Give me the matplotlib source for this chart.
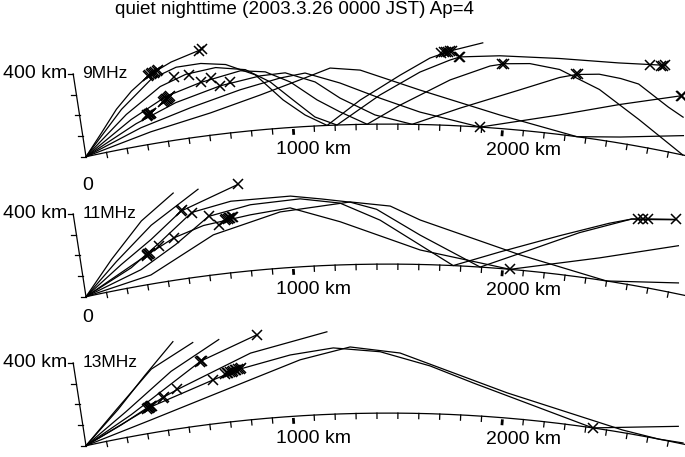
import numpy as np
import matplotlib
matplotlib.use("Agg")
import matplotlib.pyplot as plt
from matplotlib import font_manager

# ---------------- data (ground distance km, height km) ----------------
panel_labels = ["9MHz", "11MHz", "13MHz"]
title = "quiet nighttime (2003.3.26 0000 JST) Ap=4"
dist_tick_labels = [1000, 2000]
height_tick_label = 400

# 9 MHz rays: (distance list, height list)
rays_9 = [
    ([0, 96, 185, 268, 361, 468, 614], [0, 97, 193, 265, 327, 372, 413]),
    ([0, 208, 367, 487, 600, 712, 842, 961, 1060, 1162, 1322, 1509, 1644, 1734, 1880],
     [0, 188, 306, 344, 346, 327, 264, 134, 55, 0, 116, 234, 318, 355, 402]),
    ([0, 226, 402, 526, 665, 799, 908, 1008, 1106, 1209, 1415, 1600, 1736, 1781, 1961, 2231, 2500, 2707],
     [0, 160, 264, 304, 318, 293, 224, 130, 43, 0, 139, 250, 312, 329, 346, 360, 377, 403]),
    ([0, 244, 421, 588, 776, 889, 1000, 1120, 1226, 1353, 1510, 1740, 1920, 1987, 2100, 2238, 2431, 2635, 2870],
     [0, 132, 213, 256, 290, 274, 217, 124, 62, 0, 91, 217, 294, 310, 321, 308, 238, 126, 0]),
    ([0, 263, 462, 677, 865, 980, 1115, 1228, 1391, 1568, 1793, 2066, 2242, 2317, 2420, 2520, 2605, 2759, 2835],
     [0, 108, 177, 229, 257, 262, 210, 128, 44, 0, 85, 192, 270, 294, 310, 305, 293, 210, 177]),
    ([0, 282, 527, 767, 955, 1071, 1230, 1415, 1604, 1893, 2264, 2532, 2806],
     [0, 85, 143, 200, 239, 255, 200, 124, 59, 0, 93, 181, 275]),
    ([0, 325, 616, 857, 1046, 1187, 1325, 1602, 1983, 2357, 2562, 2854],
     [0, 58, 106, 166, 224, 273, 259, 164, 64, 0, 29, 91]),
]
marks_9_d = [355, 361, 368, 375, 383, 390, 398, 405, 600, 614, 471, 540, 589, 637, 677, 725,
             318, 322, 326, 330, 334, 338, 342,
             405, 410, 415, 420, 425, 430, 435, 440,
             1695, 1705, 1715, 1725, 1735, 1745, 1775, 1780, 1975, 1985, 2317, 2322,
             2640, 2690, 2700, 2707, 2806, 2810, 1893]
marks_9_h = [324, 327, 330, 332, 335, 337, 340, 342, 408, 413, 298, 300, 260, 273, 226, 243,
             136, 138, 140, 142, 144, 146, 148,
             190, 193, 196, 199, 202, 205, 208, 211,
             343, 347, 350, 352, 354, 356, 327, 329, 307, 309, 294, 296,
             392, 398, 400, 403, 275, 276, 0]

# 11 MHz rays
rays_11 = [
    ([0, 154, 321, 483], [0, 150, 305, 413]),
    ([0, 174, 362, 596], [0, 135, 277, 415]),
    ([0, 194, 351, 506, 776], [0, 117, 210, 322, 416]),
    ([0, 237, 394, 554, 737, 1009, 1150, 1280, 1400, 1603, 1893, 2122, 2342, 2570, 2645, 2768],
     [0, 93, 193, 309, 340, 340, 318, 298, 262, 140, 0, 101, 210, 311, 325, 347]),
    ([0, 281, 460, 628, 824, 1052, 1233, 1416, 1764, 1982, 2253, 2471, 2570, 2645, 2768],
     [0, 76, 168, 280, 314, 324, 295, 210, 0, 79, 184, 274, 311, 322, 345]),
    ([0, 323, 640, 957, 1280, 1463, 1602, 2077, 2500, 2838],
     [0, 43, 190, 268, 299, 277, 212, 73, 0, 52]),
    ([0, 324, 457, 600, 819, 1004, 1231, 1605, 2036, 2451, 2803],
     [0, 142, 201, 240, 266, 284, 206, 69, 0, 104, 226]),
]
marks_11_d = [507, 512, 557, 630, 670, 700, 708, 715, 722, 727, 734, 740, 457, 383,
              318, 322, 326, 330, 334, 776, 2600, 2620, 2645, 2768, 2036]
marks_11_h = [323, 325, 307, 280, 235, 254, 256, 258, 260, 262, 264, 266, 201, 172,
              138, 140, 142, 144, 146, 416, 315, 318, 325, 347, 0]

# 13 MHz rays
rays_13 = [
    ([0, 183, 331, 482], [0, 139, 275, 415]),
    ([0, 175, 366, 570], [0, 140, 301, 398]),
    ([0, 218, 454, 688], [0, 122, 276, 397]),
    ([0, 239, 595, 863], [0, 103, 305, 402]),
    ([0, 185, 397, 471, 825, 1177], [0, 64, 158, 186, 317, 394]),
    ([0, 337, 642, 758, 1005, 1203, 1417, 1647, 1850, 2433, 2832],
     [0, 124, 209, 244, 293, 316, 293, 228, 156, 0, 78]),
    ([0, 326, 812, 1049, 1280, 1508, 2012, 2576, 2753, 2870],
     [0, 62, 190, 267, 318, 287, 120, 12, 0, 5]),
]
marks_13_d = [590, 595, 600, 863, 397, 403, 471, 318, 322, 326, 330, 334, 338, 342,
              642, 700, 708, 715, 722, 730, 738, 745, 752, 760, 768, 775, 2433]
marks_13_h = [303, 305, 307, 402, 158, 161, 186, 117, 119, 121, 123, 125, 127, 129,
              209, 230, 232, 234, 236, 238, 240, 242, 244, 246, 248, 250, 0]

panels = [(rays_9, marks_9_d, marks_9_h), (rays_11, marks_11_d, marks_11_h),
          (rays_13, marks_13_d, marks_13_h)]

# ---------------- layout / geometry ----------------
W, H = 685, 457
fig = plt.figure(figsize=(W / 100, H / 100), dpi=100)
ax = fig.add_axes([0, 0, 1, 1])
ax.set_xlim(0, W)
ax.set_ylim(H, 0)
ax.axis("off")

names = {f.name for f in font_manager.fontManager.ttflist}
FONT = "Liberation Sans" if "Liberation Sans" in names else "DejaVu Sans"

R_KM = 6772.0
S = 0.2095            # px per km
XC = 388.4
RPX = R_KM * S
ORIGIN_X = 86.0
ORIGIN_Y = [156.7, 296.7, 445.7]
PHI0 = np.arcsin((ORIGIN_X - XC) / RPX)
AX_TILT = np.deg2rad(8.8)
LW = 0.9


def to_px(d, h, p):
    d = np.asarray(d, float)
    h = np.asarray(h, float)
    phi = PHI0 + d / R_KM
    r = RPX + h * S
    yc = ORIGIN_Y[p] + RPX * np.cos(PHI0)
    return XC + r * np.sin(phi), yc - r * np.cos(phi)


for p, (rays, md, mh) in enumerate(panels):
    # ground
    dg = np.linspace(0, 2900, 300)
    gx, gy = to_px(dg, np.zeros_like(dg), p)
    ax.plot(gx, gy, color="black", lw=LW)
    for t in range(100, 2900, 100):
        if t % 1000 == 0:
            tx, ty = to_px([t, t], [-8, -36], p)
            ax.plot(tx, ty, color="black", lw=2.0, solid_capstyle="butt")
        else:
            tx, ty = to_px([t, t], [0, -25], p)
            ax.plot(tx, ty, color="black", lw=LW)
    for t in dist_tick_labels:
        tx, ty = to_px(t, 0, p)
        ax.text(tx - 17, ty + 22, f"{t} km", fontsize=14, family=FONT,
                ha="left", va="center")
    # height axis
    ox, oy = ORIGIN_X, ORIGIN_Y[p]
    L = height_tick_label * S
    ux, uy = -np.sin(AX_TILT), -np.cos(AX_TILT)
    ax.plot([ox, ox + ux * L], [oy, oy + uy * L], color="black", lw=LW)
    for k in range(0, 5):
        hx, hy = ox + ux * L * k / 4, oy + uy * L * k / 4
        ax.plot([hx - 5, hx], [hy, hy], color="black", lw=LW)
    topx, topy = ox + ux * L, oy + uy * L
    ax.text(topx - 6, topy, f"{height_tick_label} km", fontsize=14, family=FONT,
            ha="right", va="center")
    ax.text(topx + 9, topy, panel_labels[p], fontsize=12.5, family=FONT,
            ha="left", va="center")
    # rays
    for d, h in rays:
        x, y = to_px(d, h, p)
        ax.plot(x, y, color="black", lw=LW)
    mx, my = to_px(md, mh, p)
    ax.plot(mx, my, linestyle="none", marker="x", color="black", ms=6.5, mew=1.1)

# "0" labels below origins
ax.text(88, 185, "0", fontsize=14, family=FONT, ha="center", va="center")
ax.text(88, 318, "0", fontsize=14, family=FONT, ha="center", va="center")

fig.text(294 / W, 1 - 10 / H, title, fontsize=13.6, family=FONT, ha="center", va="center")

fig.savefig("out.png", dpi=100)
